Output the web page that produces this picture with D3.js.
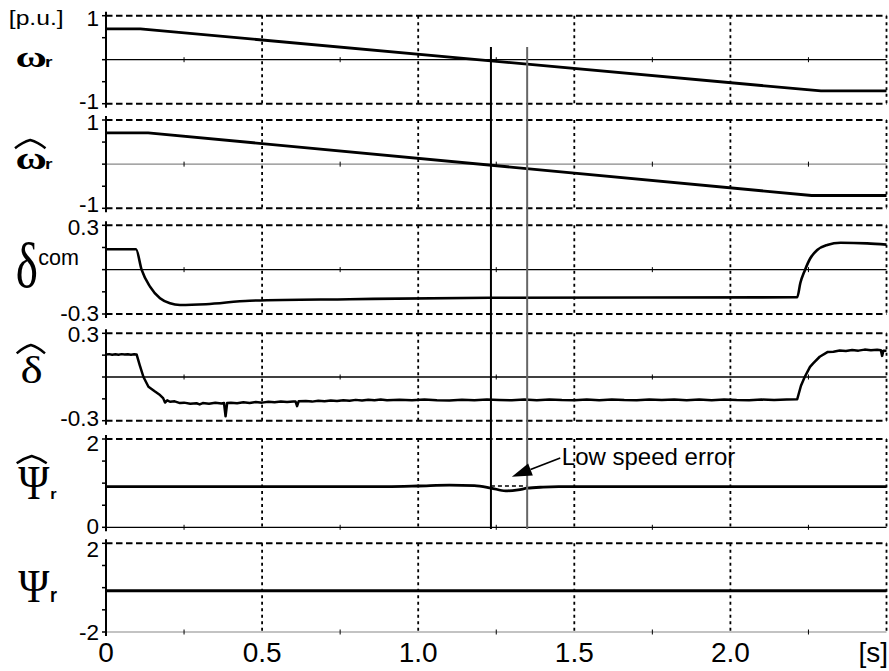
<!DOCTYPE html>
<html><head><meta charset="utf-8">
<script src="https://cdn.jsdelivr.net/npm/d3@7"></script>
<style>body{margin:0;background:#fff}svg{display:block}</style>
</head><body><svg id="c" width="889" height="671"></svg>
<script>
// ---------------- data ----------------
const timeTicks = [0, 0.5, 1.0, 1.5, 2.0];
const timeTickLabels = ["0", "0.5", "1.0", "1.5", "2.0"];
const minorTimeTicks = [0.25, 0.75, 1.25, 1.75, 2.25];
const gridTimes = [0.5, 1.0, 1.5, 2.0, 2.5];
const timeUnit = "[s]";
const valueUnit = "[p.u.]";
const panelDomains = [[-1, 1], [-1, 1], [-0.3, 0.3], [-0.3, 0.3], [0, 2], [-2, 2]];
const panelTopLabels = ["1", "1", "0.3", "0.3", "2", "2"];
const panelBottomLabels = ["-1", "-1", "-0.3", "-0.3", "0", "-2"];
const panelRefValues = [0, 0, 0, 0, 0, -2];
const cursorTimes = [1.233, 1.349];

const omegaData = [[0, 0.70], [0.11, 0.70], [2.29, -0.71], [2.5, -0.71]];
const omegaHatData = [[0, 0.71], [0.135, 0.71], [2.26, -0.71], [2.5, -0.71]];
const deltaComData = [[0, 0.138], [0.096, 0.138], [0.114, 0.0], [0.141, -0.115], [0.173, -0.194], [0.205, -0.228],
  [0.237, -0.239], [0.32, -0.234], [0.46, -0.21], [0.78, -0.2], [1.23, -0.19], [2.214, -0.187], [2.224, -0.09],
  [2.238, -0.007], [2.256, 0.077], [2.278, 0.133], [2.31, 0.167], [2.353, 0.182], [2.438, 0.178], [2.5, 0.169]];
const deltaHatData = [[0, 0.155], [0.01, 0.157], [0.02, 0.153], [0.03, 0.156], [0.04, 0.153], [0.05, 0.157], [0.06, 0.154],
  [0.07, 0.156], [0.08, 0.153], [0.09, 0.156], [0.098, 0.155], [0.108, 0.082], [0.12, 0.0], [0.136, -0.067],
  [0.157, -0.10], [0.173, -0.124], [0.183, -0.145], [0.189, -0.175], [0.196, -0.16], [0.205, -0.17], [0.22, -0.167],
  [0.237, -0.179], [0.25, -0.176], [0.27, -0.183], [0.29, -0.18], [0.30, -0.188], [0.31, -0.179], [0.33, -0.183],
  [0.35, -0.177], [0.37, -0.182], [0.378, -0.178], [0.383, -0.27], [0.388, -0.179], [0.40, -0.176], [0.42, -0.18],
  [0.44, -0.174], [0.46, -0.178], [0.48, -0.172], [0.50, -0.176], [0.52, -0.17], [0.54, -0.174], [0.56, -0.168],
  [0.58, -0.172], [0.60, -0.168], [0.607, -0.168], [0.612, -0.2], [0.617, -0.167], [0.64, -0.165], [0.66, -0.169],
  [0.68, -0.163], [0.70, -0.167], [0.72, -0.161], [0.74, -0.165], [0.76, -0.159], [0.78, -0.163], [0.80, -0.157],
  [0.82, -0.161], [0.84, -0.156], [0.86, -0.16], [0.88, -0.155], [0.90, -0.159], [0.94, -0.156], [0.98, -0.16],
  [1.02, -0.155], [1.06, -0.159], [1.10, -0.161], [1.14, -0.156], [1.18, -0.159], [1.22, -0.155], [1.26, -0.158],
  [1.30, -0.16], [1.34, -0.155], [1.38, -0.159], [1.42, -0.154], [1.46, -0.158], [1.50, -0.16], [1.54, -0.155],
  [1.58, -0.159], [1.62, -0.154], [1.66, -0.158], [1.70, -0.16], [1.74, -0.155], [1.78, -0.158], [1.82, -0.154],
  [1.86, -0.159], [1.90, -0.155], [1.94, -0.159], [1.98, -0.154], [2.02, -0.158], [2.06, -0.16], [2.10, -0.155],
  [2.14, -0.158], [2.18, -0.154], [2.214, -0.153], [2.226, -0.06], [2.238, 0.0], [2.255, 0.07], [2.265, 0.094],
  [2.286, 0.139], [2.312, 0.172], [2.33, 0.174], [2.35, 0.182], [2.37, 0.179], [2.39, 0.185], [2.41, 0.181],
  [2.43, 0.188], [2.45, 0.183], [2.47, 0.187], [2.482, 0.183], [2.486, 0.145], [2.49, 0.181], [2.5, 0.18]];
const psiHatData = [[0, 0.92], [0.9, 0.922], [1.0, 0.935], [1.1, 0.955], [1.18, 0.945], [1.233, 0.89], [1.28, 0.825],
  [1.32, 0.85], [1.349, 0.885], [1.4, 0.91], [1.45, 0.92], [2.5, 0.92]];
const psiData = [[0, -0.14], [2.5, -0.14]];
const refDashData = [[1.233, 0.935], [1.349, 0.935]];
const annotationText = "Low speed error";
const annotationAnchor = [1.46, 1.41];
const arrowTail = [1.455, 1.57];
const arrowTip = [1.300, 1.146];

// ---------------- layout ----------------
const svg = d3.select("#c");
const panelTop = [15.7, 120, 225.3, 333.3, 439, 543.3];
const panelBottom = [103.7, 208.3, 314, 420.7, 527.3, 632];
const x = d3.scaleLinear().domain([0, 2.5]).range([106, 886.5]);
const ys = panelDomains.map((d, i) => d3.scaleLinear().domain(d).range([panelBottom[i], panelTop[i]]));
const refStyle = [["#000", 1.3], ["#888", 1.1], ["#000", 1.3], ["#000", 1.3], ["#000", 1.2], ["#888", 1.1]];
const topLabelDy = [2, 2, 1.5, 1, 3.5, 5.5];
const botLabelDy = [-3, -4, -1, -2.5, -1.5, 0];
const FONT = "'Liberation Sans', Arial, sans-serif";

const g = svg.append("g");

panelDomains.forEach((dom, i) => {
  const y = ys[i];
  const p = g.append("g");
  p.selectAll("line.vg").data(gridTimes).join("line")
    .attr("x1", d => x(d)).attr("x2", d => x(d))
    .attr("y1", y(dom[1])).attr("y2", y(dom[0]))
    .attr("stroke", "#000").attr("stroke-width", 1.8).attr("stroke-dasharray", "3,3.5");
  p.append("line").attr("x1", x(0)).attr("x2", x(2.5)).attr("y1", y(dom[1])).attr("y2", y(dom[1]))
    .attr("stroke", "#000").attr("stroke-width", 1.9).attr("stroke-dasharray", "6.5,3.5");
  if (panelRefValues[i] !== dom[0]) {
    p.append("line").attr("x1", x(0)).attr("x2", x(2.5)).attr("y1", y(dom[0])).attr("y2", y(dom[0]))
      .attr("stroke", "#000").attr("stroke-width", 1.9).attr("stroke-dasharray", "6.5,3.5");
  }
  const ry = y(panelRefValues[i]);
  p.append("line").attr("x1", x(0)).attr("x2", x(2.5)).attr("y1", ry).attr("y2", ry)
    .attr("stroke", refStyle[i][0]).attr("stroke-width", refStyle[i][1]);
  p.selectAll("line.mt").data(minorTimeTicks).join("line")
    .attr("x1", d => x(d)).attr("x2", d => x(d)).attr("y1", ry - 2.5).attr("y2", ry + 2.5)
    .attr("stroke", "#000").attr("stroke-width", 1);
  p.append("line").attr("x1", x(0)).attr("x2", x(0)).attr("y1", y(dom[1]) - 4).attr("y2", y(dom[0]) + 4)
    .attr("stroke", "#000").attr("stroke-width", 2);
  const lt = d3.range(5).map(k => dom[0] + (dom[1] - dom[0]) * k / 4);
  p.selectAll("line.lt").data(lt).join("line")
    .attr("x1", x(0) - 4).attr("x2", x(0)).attr("y1", d => y(d)).attr("y2", d => y(d))
    .attr("stroke", "#000").attr("stroke-width", 1.5);
  p.append("text").attr("x", 99).attr("y", y(dom[1]) + topLabelDy[i]).attr("dy", "0.36em")
    .attr("text-anchor", "end").style("font-family", FONT).style("font-size", "22.5px").text(panelTopLabels[i]);
  p.append("text").attr("x", 99).attr("y", y(dom[0]) + botLabelDy[i]).attr("dy", "0.36em")
    .attr("text-anchor", "end").style("font-family", FONT).style("font-size", "22.5px").text(panelBottomLabels[i]);
});

const series = [
  { d: omegaData, p: 0, w: 2.8, c: d3.curveLinear },
  { d: omegaHatData, p: 1, w: 2.8, c: d3.curveLinear },
  { d: deltaComData, p: 2, w: 2.6, c: d3.curveMonotoneX },
  { d: deltaHatData, p: 3, w: 2.5, c: d3.curveLinear },
  { d: psiHatData, p: 4, w: 2.8, c: d3.curveMonotoneX },
  { d: psiData, p: 5, w: 3, c: d3.curveLinear }
];
series.forEach(s => {
  const line = d3.line().x(d => x(d[0])).y(d => ys[s.p](d[1])).curve(s.c);
  g.append("path").attr("d", line(s.d)).attr("fill", "none").attr("stroke", "#000")
    .attr("stroke-width", s.w).attr("stroke-linejoin", "round");
});

g.append("path").attr("d", d3.line().x(d => x(d[0])).y(d => ys[4](d[1]))(refDashData))
  .attr("stroke", "#000").attr("stroke-width", 1.3).attr("stroke-dasharray", "4,3").attr("fill", "none");

const cursorColors = ["#000", "#666"];
cursorTimes.forEach((t, k) => {
  g.append("line").attr("x1", x(t)).attr("x2", x(t)).attr("y1", 47).attr("y2", 529)
    .attr("stroke", cursorColors[k]).attr("stroke-width", 2);
});

const tx = x(arrowTip[0]), ty = ys[4](arrowTip[1]);
const sx0 = x(arrowTail[0]), sy0 = ys[4](arrowTail[1]);
const ang = Math.atan2(sy0 - ty, sx0 - tx);
const L = 20, Wd = 6.5;
const bx = tx + L * Math.cos(ang), by = ty + L * Math.sin(ang);
g.append("line").attr("x1", sx0).attr("y1", sy0).attr("x2", bx).attr("y2", by).attr("stroke", "#000").attr("stroke-width", 1.8);
g.append("path").attr("d", `M${tx},${ty}L${bx + Wd * Math.sin(ang)},${by - Wd * Math.cos(ang)}L${bx - Wd * Math.sin(ang)},${by + Wd * Math.cos(ang)}Z`).attr("fill", "#000");
g.append("text").attr("x", x(annotationAnchor[0])).attr("y", ys[4](annotationAnchor[1]))
  .style("font-family", FONT).style("font-size", "24px").text(annotationText);

g.selectAll("text.xt").data(timeTicks).join("text")
  .attr("x", d => x(d)).attr("y", 662).attr("text-anchor", "middle")
  .style("font-family", FONT).style("font-size", "28px").text((d, i) => timeTickLabels[i]);
g.append("text").attr("x", 888).attr("y", 662).attr("text-anchor", "end")
  .style("font-family", FONT).style("font-size", "28px").text(timeUnit);

const ctx = document.createElement("canvas").getContext("2d");
function fitText(str, font, x0, y0, x1, y1) {
  ctx.font = font;
  const m = ctx.measureText(str);
  const iw = m.actualBoundingBoxLeft + m.actualBoundingBoxRight;
  const ih = m.actualBoundingBoxAscent + m.actualBoundingBoxDescent;
  const sx = (x1 - x0) / iw, sy = (y1 - y0) / ih;
  const ox = x0 + m.actualBoundingBoxLeft * sx, oy = y0 + m.actualBoundingBoxAscent * sy;
  g.append("text").attr("transform", `translate(${ox},${oy}) scale(${sx},${sy})`).style("font", font).text(str);
}
function hat(x0, y0, x1, y1) {
  const xm = (x0 + x1) / 2;
  g.append("path").attr("d", `M${x0},${y1} Q${(x0 + xm) / 2},${y0 + 2} ${xm},${y0} Q${(xm + x1) / 2},${y0 + 2} ${x1},${y1}`)
    .attr("fill", "none").attr("stroke", "#000").attr("stroke-width", 2.4);
}
const SERIF = "'Liberation Serif', 'Times New Roman', serif";
const SERIF_B = "bold 40px " + SERIF, SERIF_R = "40px " + SERIF;
const SANS_B = "bold 20px " + FONT, SANS_R = "20px " + FONT;
fitText(valueUnit, SANS_R, 10, 10, 63, 28.5);
fitText("ω", SERIF_B, 16.5, 51.5, 45.5, 66.5);
fitText("r", SANS_B, 46, 58.3, 52.7, 66.7);
hat(15, 140, 45.5, 148.3);
fitText("ω", SERIF_B, 16.5, 153, 45.5, 168.5);
fitText("r", SANS_B, 46, 160, 52.7, 169);
fitText("δ", SERIF_R, 17, 243, 37, 287);
fitText("com", SANS_R, 38.3, 253.3, 78.3, 265);
hat(16.7, 345, 45, 353.3);
fitText("δ", SERIF_R, 21.7, 356.7, 41.7, 383.3);
hat(16.7, 456, 46.7, 463.3);
fitText("Ψ", SERIF_R, 18.3, 467.3, 50, 499.3);
fitText("r", SANS_B, 51, 490, 56.7, 499.3);
fitText("Ψ", SERIF_R, 18.3, 571.7, 50, 601.7);
fitText("r", SANS_B, 51, 590, 57.3, 601.7);
</script></body></html>
